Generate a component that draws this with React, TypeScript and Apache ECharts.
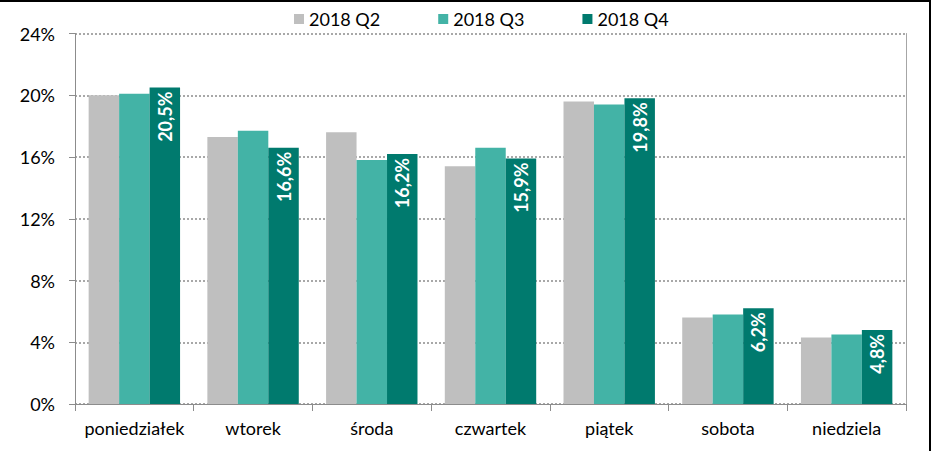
import React, { useEffect, useRef } from "react";
import * as echarts from "echarts";

const categories = ["poniedziałek", "wtorek", "środa", "czwartek", "piątek", "sobota", "niedziela"];
const seriesNames = ["2018 Q2", "2018 Q3", "2018 Q4"];
const q2 = [20.0, 17.3, 17.6, 15.4, 19.6, 5.6, 4.3];
const q3 = [20.1, 17.7, 15.8, 16.6, 19.4, 5.8, 4.5];
const q4 = [20.5, 16.6, 16.2, 15.9, 19.8, 6.2, 4.8];
const yTicks = [0, 4, 8, 12, 16, 20, 24];
const colors = ["#BFBFBF", "#43B3A6", "#007A6E"];

const FONT = "Lato";

export default function App() {
  const ref = useRef<HTMLDivElement>(null);
  useEffect(() => {
    if (!ref.current) return;
    const chart = echarts.init(ref.current, null, { renderer: "svg" });
    const mk = (name: string, data: number[], idx: number, labeled: boolean) => ({
      name,
      type: "bar",
      data,
      barGap: "0%",
      barCategoryGap: "23%",
      itemStyle: { color: colors[idx] },
      label: labeled
        ? {
            show: true,
            position: "insideTop",
            rotate: 90,
            align: "right",
            verticalAlign: "middle",
            distance: 4,
            color: "#FFFFFF",
            fontFamily: FONT,
            fontWeight: "bold",
            fontSize: 18,
            formatter: (p: any) => p.value.toFixed(1).replace(".", ",") + "%",
          }
        : { show: false },
    });
    chart.setOption({
      animation: false,
      backgroundColor: "#FFFFFF",
      textStyle: { fontFamily: FONT },
      legend: {
        data: seriesNames,
        left: 289,
        top: 5,
        itemWidth: 10,
        itemHeight: 10,
        itemGap: 58,
        icon: "rect",
        textStyle: { fontFamily: FONT, fontSize: 18, color: "#000000" },
      },
      grid: { left: 75, right: 25, top: 33.5, bottom: 47, containLabel: false },
      xAxis: {
        type: "category",
        data: categories,
        axisLine: { lineStyle: { color: "#8C8C8C", width: 1 } },
        axisTick: { show: true, length: 7, interval: 0, lineStyle: { color: "#8C8C8C" } },
        axisLabel: { interval: 0, fontFamily: FONT, fontSize: 18, color: "#000000", margin: 15 },
      },
      yAxis: [
        {
          type: "value",
          min: 0,
          max: 24,
          interval: 4,
          axisLine: { show: true, lineStyle: { color: "#8C8C8C", width: 1 } },
          axisTick: { show: true, length: 6, lineStyle: { color: "#8C8C8C" } },
          axisLabel: {
            fontFamily: FONT,
            fontSize: 18,
            color: "#000000",
            margin: 20,
            formatter: (v: number) => (yTicks.includes(v) ? v + "%" : ""),
          },
          splitLine: { show: true, lineStyle: { color: "#8C8C8C", type: [2, 2], width: 1.5 } },
        },
        {
          type: "value",
          position: "right",
          min: 0,
          max: 24,
          interval: 4,
          axisLine: { show: true, lineStyle: { color: "#A6A6A6", width: 1 } },
          axisTick: { show: false },
          axisLabel: { show: false },
          splitLine: { show: false },
        },
      ],
      series: [mk(seriesNames[0], q2, 0, false), mk(seriesNames[1], q3, 1, false), mk(seriesNames[2], q4, 2, true)],
      graphic: [
        { type: "rect", left: 0, top: 0, shape: { width: 931, height: 2 }, style: { fill: "#000000" } },
        { type: "rect", right: 0, top: 0, shape: { width: 2, height: 451 }, style: { fill: "#000000" } },
      ],
    });
    return () => chart.dispose();
  }, []);
  return <div ref={ref} style={{ width: 931, height: 451, position: "absolute", left: 0, top: 0 }} />;
}
